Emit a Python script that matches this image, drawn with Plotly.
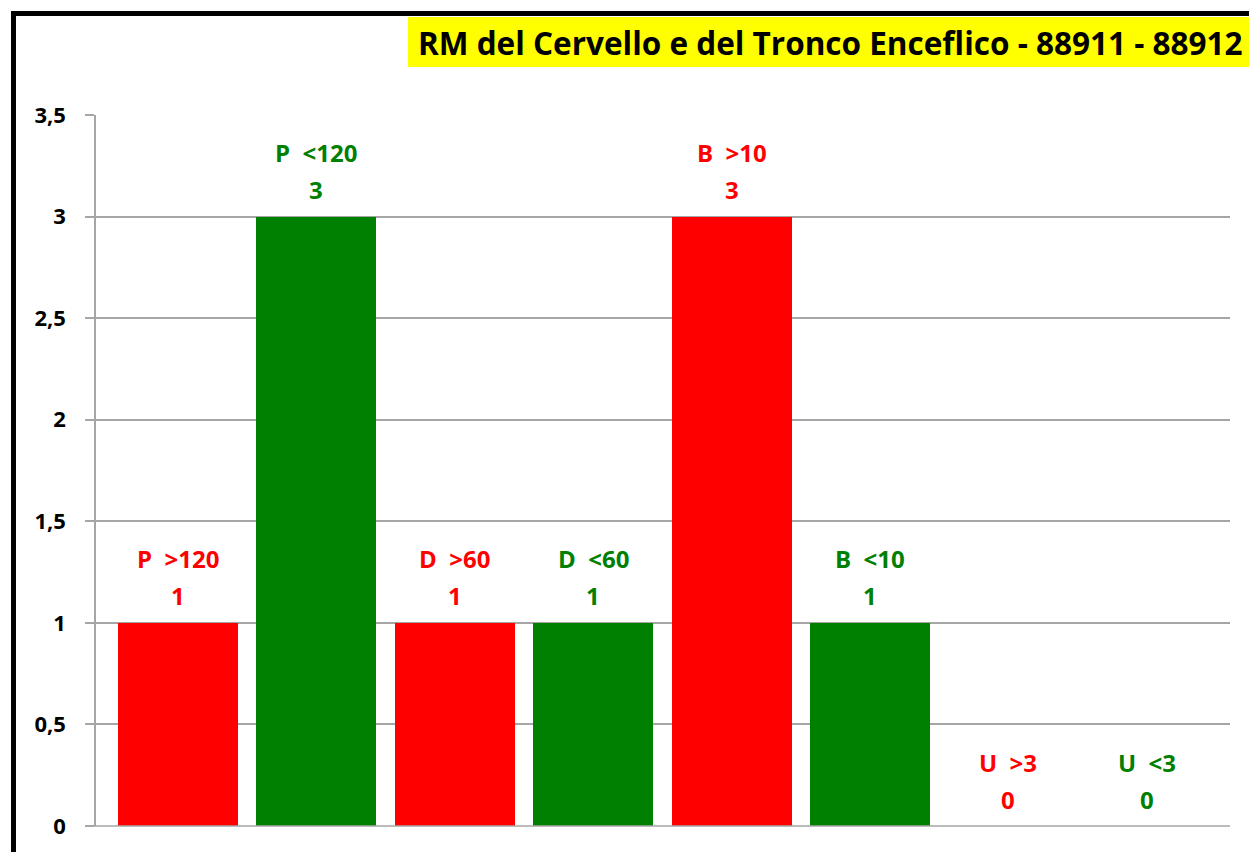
import plotly.graph_objects as go

categories = ["P  >120", "P  <120", "D  >60", "D  <60", "B  >10", "B  <10", "U  >3", "U  <3"]
values = [1, 3, 1, 1, 3, 1, 0, 0]
bar_colors = ["#FF0000", "#008000", "#FF0000", "#008000", "#FF0000", "#008000", "#FF0000", "#008000"]
title_text = "RM del Cervello e del Tronco Enceflico - 88911 - 88912"

W, H = 1249, 852
L, R, T, B = 96, 1230, 115, 826  # plot area in px


def px_x(px):
    return (px - L) / (R - L)


def px_y(py):
    return (B - py) / (B - T)


fig = go.Figure()
fig.add_trace(go.Bar(
    x=list(range(len(categories))),
    y=values,
    marker=dict(color=bar_colors, line=dict(width=0)),
    width=0.867,
    hoverinfo="skip",
))

lab_font = dict(family="Open Sans", size=24, weight="bold")
for i, (c, v, col) in enumerate(zip(categories, values, bar_colors)):
    fig.add_annotation(
        x=i, y=v, xref="x", yref="y",
        text=c.replace(" ", "\u00a0"),
        showarrow=False, yanchor="middle", yshift=64,
        font=dict(color=col, **lab_font),
    )
    fig.add_annotation(
        x=i, y=v, xref="x", yref="y",
        text=str(v),
        showarrow=False, yanchor="middle", yshift=27,
        font=dict(color=col, **lab_font),
    )

# title box
fig.add_shape(type="rect", xref="paper", yref="paper",
              x0=px_x(408), x1=px_x(1260), y0=px_y(67), y1=px_y(17),
              fillcolor="#FFFF00", line=dict(width=0), layer="below")
fig.add_annotation(
    xref="paper", yref="paper", x=px_x(416), y=px_y(42),
    xanchor="left", yanchor="middle", showarrow=False,
    text=title_text,
    font=dict(family="Open Sans", size=31.5, color="black", weight="bold"),
)
# black frame
fig.add_shape(type="path", xref="paper", yref="paper",
              path="M %f,%f L %f,%f L %f,%f" % (px_x(13.5), px_y(860), px_x(13.5), px_y(13.5), px_x(1260), px_y(13.5)),
              line=dict(color="black", width=5))

fig.update_layout(
    width=W, height=H,
    margin=dict(l=L, r=W - R, t=T, b=H - B),
    paper_bgcolor="white", plot_bgcolor="white",
    separators=",.",
    showlegend=False,
    bargap=0,
    xaxis=dict(range=[(L - 178) / 138.4, (R - 178) / 138.4], showticklabels=False,
               showgrid=False, zeroline=False, showline=False, ticks=""),
    yaxis=dict(range=[0, 3.5], dtick=0.5, tick0=0,
               showgrid=True, gridcolor="#A6A6A6", gridwidth=1.5,
               zeroline=False, showline=True, linecolor="#A6A6A6", linewidth=1.5,
               ticks="outside", ticklen=9, tickcolor="#A6A6A6", tickwidth=1.5,
               ticklabelstandoff=15,
               tickfont=dict(family="Open Sans", size=22, color="black", weight="bold")),
)
# bottom axis line
fig.add_shape(type="line", xref="paper", yref="paper", x0=px_x(87), x1=1, y0=0, y1=0,
              line=dict(color="#A6A6A6", width=1.5))

fig.write_html("out.html", config={"displayModeBar": False},
               post_script="document.body.style.margin='0px';")
